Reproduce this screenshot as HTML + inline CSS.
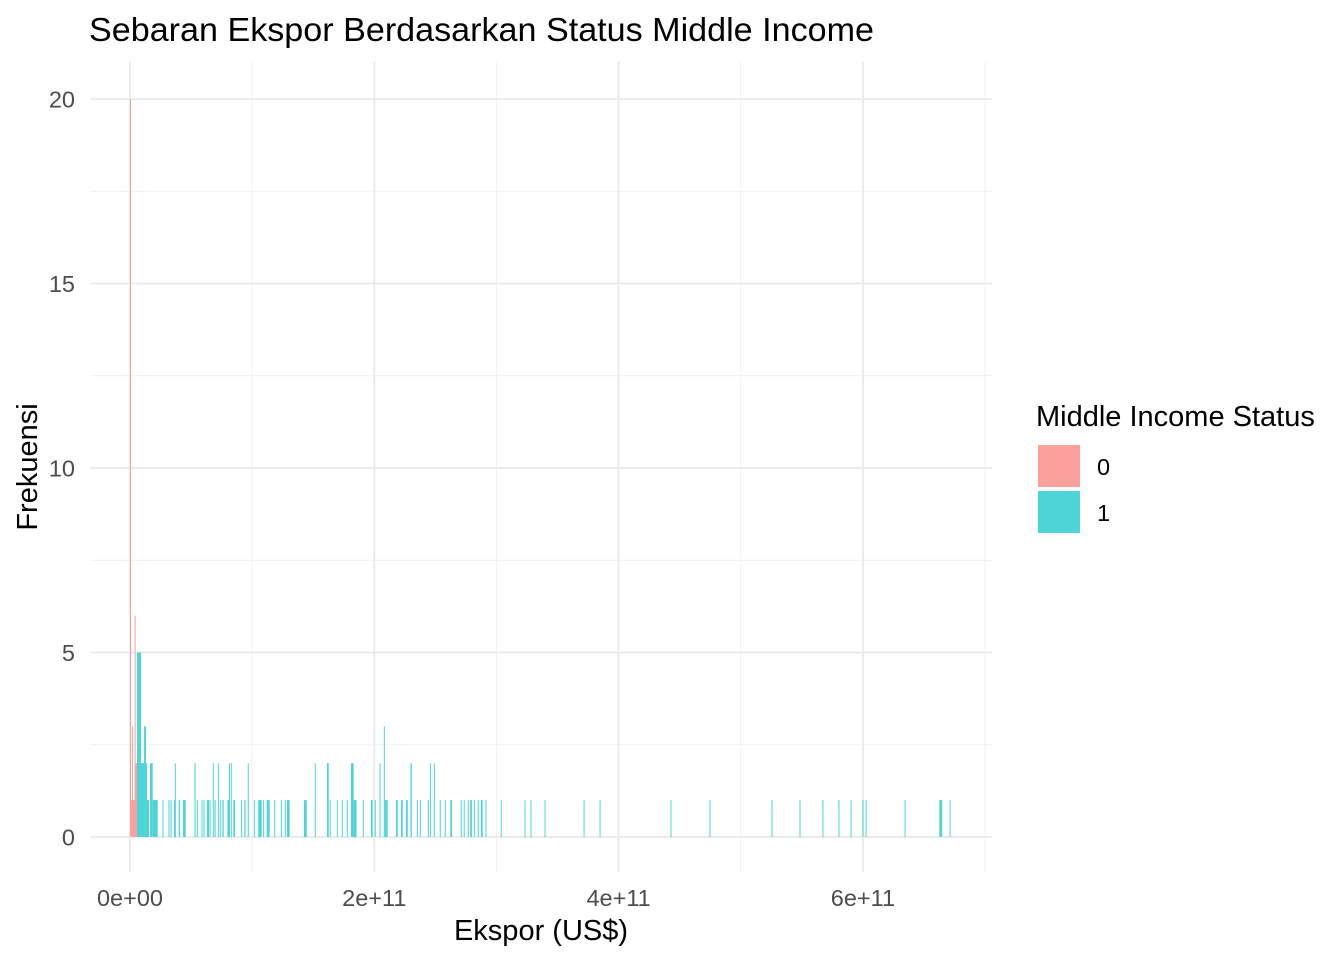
<!DOCTYPE html>
<html><head><meta charset="utf-8"><style>
body{margin:0;background:#fff;font-family:"Liberation Sans",Arial,sans-serif;}
svg text{font-family:"Liberation Sans",Arial,sans-serif;}
</style></head><body>
<svg id="chart" width="1344" height="960" viewBox="0 0 1344 960" xmlns="http://www.w3.org/2000/svg">
<rect width="1344" height="960" fill="#fff"/>
<g id="grid"></g>
<g id="bars"></g>
<g id="axes"></g>
<text x="89" y="41" font-size="33.5" textLength="785" lengthAdjust="spacingAndGlyphs" fill="#000">Sebaran Ekspor Berdasarkan Status Middle Income</text>
<text x="541" y="940" font-size="29" text-anchor="middle" fill="#000">Ekspor (US$)</text>
<text transform="translate(37,467) rotate(-90)" font-size="29" text-anchor="middle" fill="#000">Frekuensi</text>
<g>
<text x="1036" y="426" font-size="29" fill="#000">Middle Income Status</text>
<rect x="1038" y="445" width="42" height="42" fill="#FAA19B"/>
<text x="1097" y="475" font-size="23.5" fill="#000">0</text>
<rect x="1038" y="491" width="42" height="42" fill="#4DD4D7"/>
<text x="1097" y="521" font-size="23.5" fill="#000">1</text>
</g>
</svg>
<script>
// data in billions of US$
const xTicks = [0, 200, 400, 600];
const xTickLabels = ["0e+00", "2e+11", "4e+11", "6e+11"];
const yTicks = [0, 5, 10, 15, 20];
const redStart = [0, 0, 1.6, 3.8, 4.3];
const redEnd   = [5.7, 0.8, 2.2, 4.6, 5.7];
const redCount = [1, 20, 3, 6, 2];
const tealStart = [5.7,9.0,9.8,11.5,13.1,13.9,16.4,18.6,26.6,31.5,33.2,36.0,36.7,39.9,43.4,52.8,54.7,58.5,60.2,63.0,65.1,67.8,69.2,71.9,73.5,75.6,79.7,81.0,82.5,84.6,91.0,93.6,96.4,101.4,105.0,109.0,111.9,118.1,123.5,126.7,128.5,142.4,151.3,161.3,163.5,169.3,173.4,177.5,180.9,183.1,190.6,197.3,200.4,204.3,207.8,208.6,210.2,217.8,221.9,226.0,229.6,234.8,237.3,243.8,245.5,248.7,253.6,257.7,262.2,270.8,273.2,276.5,278.5,281.5,284.7,287.3,291.0,303.5,323.0,327.9,339.3,371.3,384.4,442.5,474.4,525.2,548.1,566.9,580.0,589.9,599.7,602.2,634.1,662.6,671.0];
const tealEnd   = [9.0,9.8,11.5,13.1,13.9,15.6,18.6,22.7,27.4,32.3,34.0,37.3,37.5,41.0,45.6,53.7,55.5,59.3,61.0,64.7,65.9,68.6,70.1,72.7,74.3,76.7,81.2,81.8,83.3,86.0,91.8,94.6,97.2,102.2,107.8,109.8,114.3,118.9,124.3,127.5,130.7,144.7,152.1,162.7,164.3,170.1,174.2,178.3,183.1,185.5,191.4,198.7,201.2,205.1,208.6,210.2,211.0,219.2,223.3,227.4,230.7,235.6,238.1,244.6,246.3,249.5,254.4,258.5,263.6,271.6,274.0,277.3,279.9,282.3,285.5,288.7,291.8,304.3,323.8,328.7,340.1,372.1,385.2,443.3,475.2,526.0,548.9,567.7,580.8,590.7,600.5,603.0,634.9,664.9,671.8];
const tealCount = [5,2,2,3,2,1,2,1,1,1,1,1,2,1,1,2,1,1,1,1,1,2,1,2,1,1,1,2,2,1,1,1,2,1,1,1,1,1,1,1,1,1,2,2,1,1,1,1,2,1,1,1,1,2,3,1,1,1,1,1,2,1,1,1,2,2,1,1,1,1,1,1,1,1,1,1,1,1,1,1,1,1,1,1,1,1,1,1,1,1,1,1,1,1,1];

const NS = "http://www.w3.org/2000/svg";
const X = v => 130 + v * 1.2215;
const Y = c => 837 - c * 36.9;
function mk(tag, attrs, parent){const e=document.createElementNS(NS,tag);for(const k in attrs)e.setAttribute(k,attrs[k]);parent.appendChild(e);return e;}
const grid=document.getElementById('grid'), bars=document.getElementById('bars'), axes=document.getElementById('axes');
for(let i=0;i<xTicks.length;i++){
  const v=xTicks[i]+100;
  const g=mk('line',{x1:X(v),x2:X(v),y1:62,y2:872,stroke:'#f1f1f1','stroke-width':1},grid);
  
  
}
for(let i=0;i<yTicks.length-1;i++){
  const v=yTicks[i]+2.5;
  const g=mk('line',{x1:90,x2:992,y1:Y(v),y2:Y(v),stroke:'#f1f1f1','stroke-width':1},grid);
  
  
}
xTicks.forEach((v,i)=>{
  const g=mk('line',{x1:X(v),x2:X(v),y1:62,y2:872,stroke:'#ebebeb','stroke-width':2},grid);
  
  
  const t=mk('text',{x:X(v),y:906,'font-size':23.5,'text-anchor':'middle',fill:'#4d4d4d'},axes);
  t.textContent=xTickLabels[i];
  
  
});
yTicks.forEach(v=>{
  const g=mk('line',{x1:90,x2:992,y1:Y(v),y2:Y(v),stroke:'#ebebeb','stroke-width':2},grid);
  
  
  const t=mk('text',{x:75,y:Y(v)+8.5,'font-size':23.5,'text-anchor':'end',fill:'#4d4d4d'},axes);
  t.textContent=v;
  
  
});
for(let i=0;i<redStart.length;i++){
  const r=mk('rect',{x:X(redStart[i]),y:Y(redCount[i]),width:Math.max(1,X(redEnd[i])-X(redStart[i])),height:Y(0)-Y(redCount[i]),fill:'#FAA19B'},bars);
  
  
}
for(let i=0;i<tealStart.length;i++){
  const r=mk('rect',{x:X(tealStart[i]),y:Y(tealCount[i]),width:Math.max(1,X(tealEnd[i])-X(tealStart[i])),height:Y(0)-Y(tealCount[i]),fill:'#4DD4D7'},bars);
  
  
}
</script>
</body></html>
